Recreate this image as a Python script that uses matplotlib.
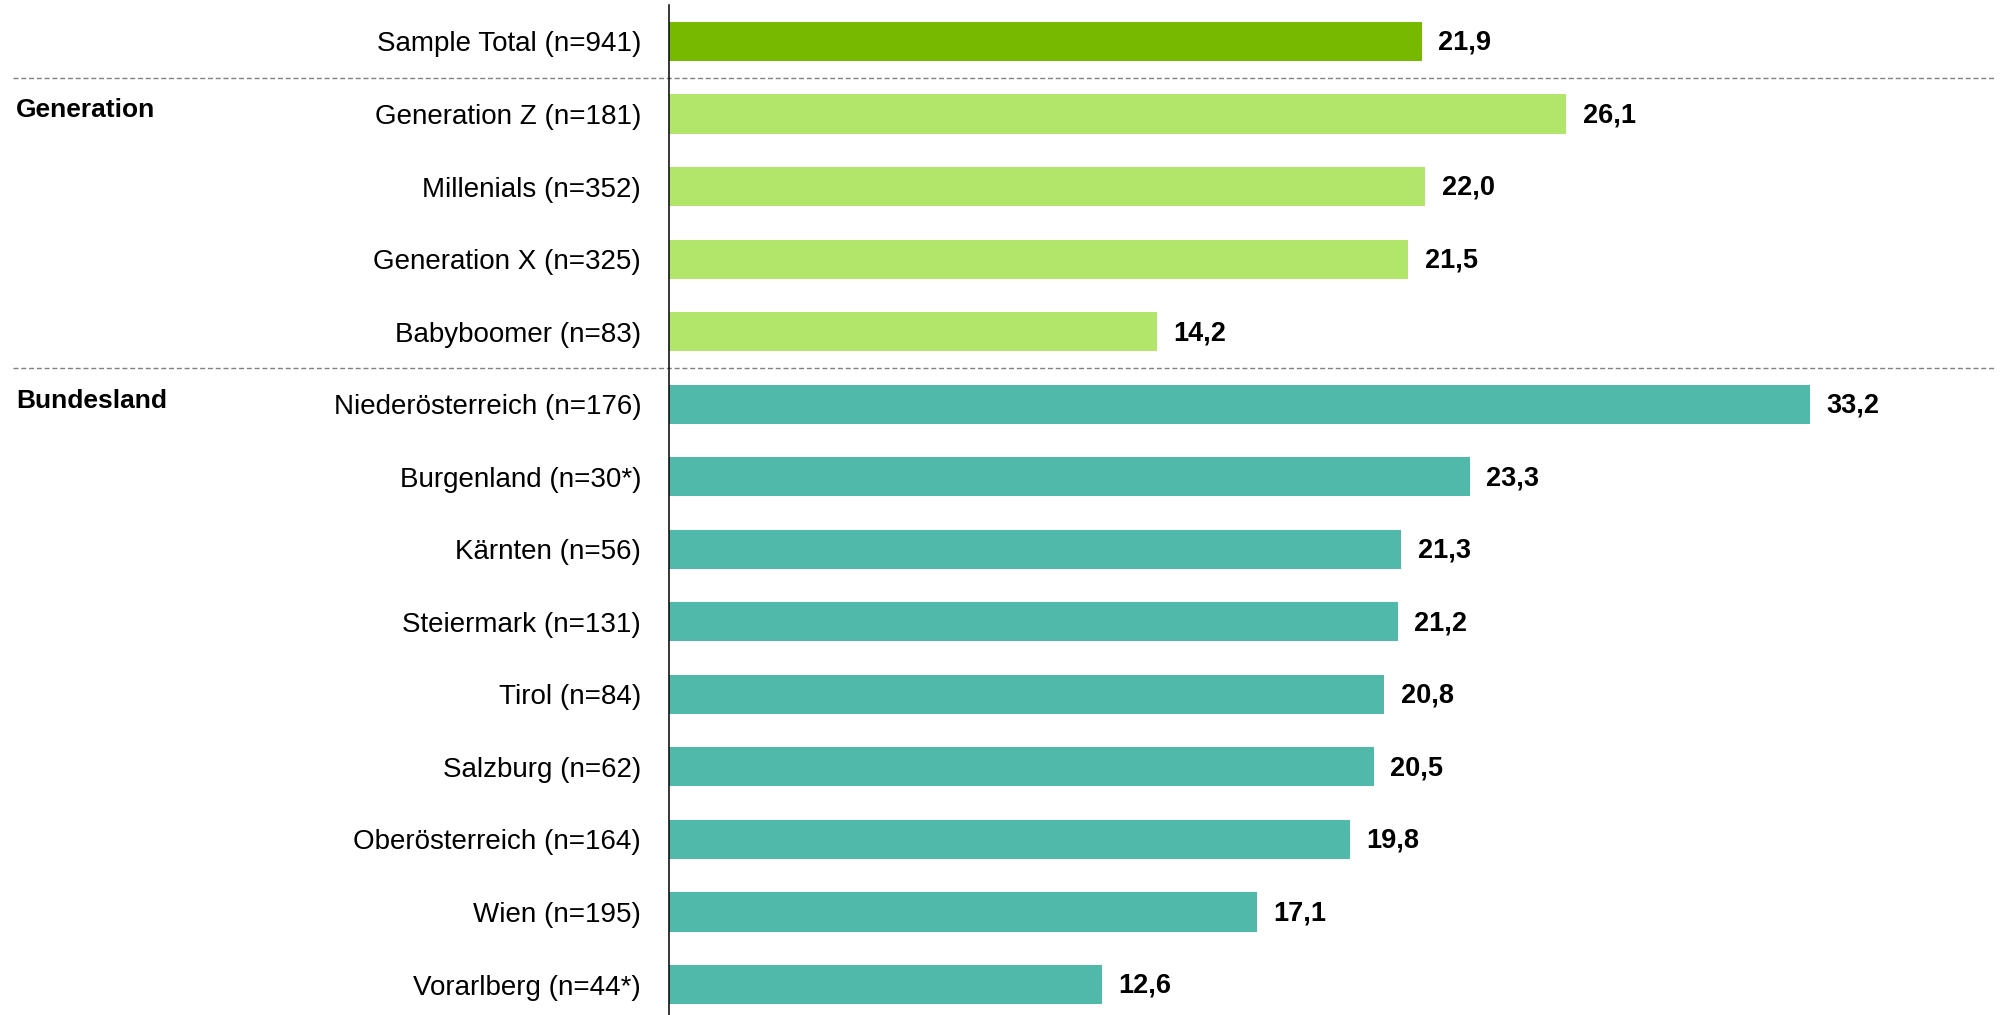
import matplotlib
matplotlib.use("Agg")
import matplotlib.pyplot as plt
import matplotlib.transforms as mtransforms

plt.rcParams['font.family'] = ['Liberation Sans', 'DejaVu Sans']

categories = [
    "Sample Total (n=941)",
    "Generation Z (n=181)",
    "Millenials (n=352)",
    "Generation X (n=325)",
    "Babyboomer (n=83)",
    "Niederösterreich (n=176)",
    "Burgenland (n=30*)",
    "Kärnten (n=56)",
    "Steiermark (n=131)",
    "Tirol (n=84)",
    "Salzburg (n=62)",
    "Oberösterreich (n=164)",
    "Wien (n=195)",
    "Vorarlberg (n=44*)",
]
values = [21.9, 26.1, 22.0, 21.5, 14.2, 33.2, 23.3, 21.3, 21.2, 20.8, 20.5, 19.8, 17.1, 12.6]
groups = ["Total"] + ["Generation"] * 4 + ["Bundesland"] * 9
group_labels = ["Generation", "Bundesland"]
group_colors = {"Total": "#77B900", "Generation": "#B1E66A", "Bundesland": "#50B9AA"}

W, H = 2003, 1015
fig = plt.figure(figsize=(W / 100, H / 100), dpi=100)
ax_left = 669 / W
ax = fig.add_axes([ax_left, 0, 1 - ax_left, 1 - 5 / H])

pitch = 72.54
n = len(categories)
ypos = list(range(n))
colors = [group_colors[g] for g in groups]
ax.barh(ypos, values, height=0.54, color=colors)

ax.set_xlim(0, (W - 669) / 34.37)
ax.set_ylim(n - 1 + 30.5 / pitch, -36.5 / pitch)

ax.set_yticks(ypos)
ax.set_yticklabels(categories, fontsize=20)
ax.tick_params(axis='y', length=0, pad=20)
ax.set_xticks([])
for s in ["top", "right", "bottom"]:
    ax.spines[s].set_visible(False)
ax.spines["left"].set_linewidth(1.1)
ax.spines["left"].set_color("black")

for y, v in zip(ypos, values):
    ax.annotate(f"{v:.1f}".replace(".", ","), xy=(v, y), xytext=(12, -1),
                textcoords="offset points", va="center", ha="left",
                fontsize=19.5, fontweight="bold")

# group separators and labels
trans = mtransforms.blended_transform_factory(fig.transFigure, ax.transData)
starts = [i for i in range(1, n) if groups[i] != groups[i - 1]]
for i in starts:
    ax.plot([13 / W, 1995 / W], [i - 0.5, i - 0.5], transform=trans, clip_on=False,
            color="#808080", lw=1.0, dashes=(3.6, 2.0))
for i, lab in zip(starts, group_labels):
    ax.text(16 / W, i - 0.05, lab, transform=trans, fontsize=19, fontweight="bold",
            va="center", ha="left")

fig.savefig("out.png", dpi=100)
